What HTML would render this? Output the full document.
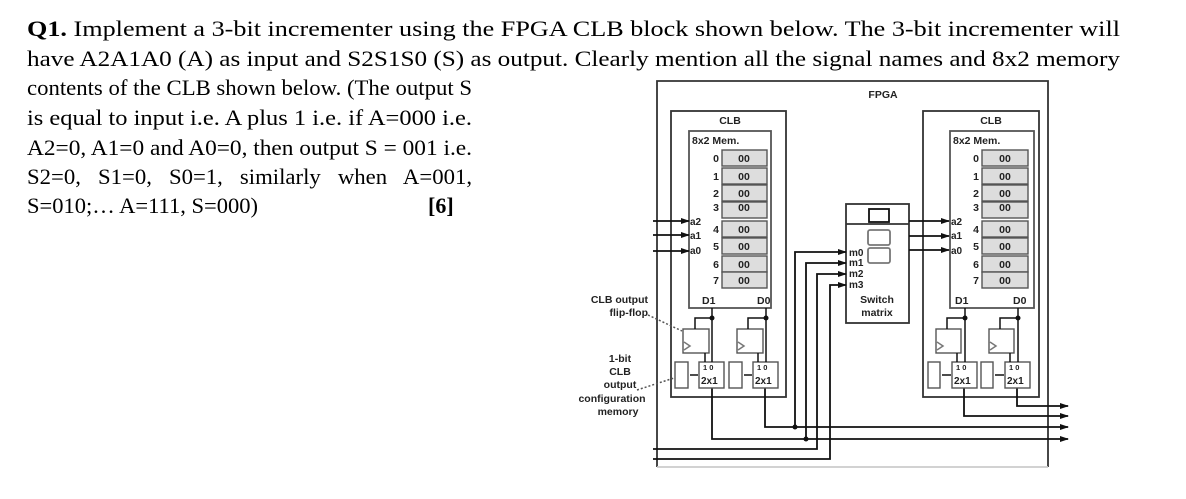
<!DOCTYPE html>
<html><head><meta charset="utf-8"><style>
body{margin:0;background:#fff;}
svg{display:block}
.t{font-family:"Liberation Serif",serif;font-size:22px;fill:#000}
</style></head><body>
<svg width="1186" height="499" viewBox="0 0 1186 499" xmlns="http://www.w3.org/2000/svg">
<defs><marker id="a" markerWidth="9" markerHeight="6" refX="8" refY="3" orient="auto" markerUnits="userSpaceOnUse"><path d="M0,0 L9,3 L0,6z" fill="#111"/></marker></defs>
<text class="t" x="27" y="36" textLength="1093" lengthAdjust="spacingAndGlyphs"><tspan font-weight="bold">Q1.</tspan> Implement a 3-bit incrementer using the FPGA CLB block shown below. The 3-bit incrementer will</text>
<text class="t" x="27" y="66" textLength="1093" lengthAdjust="spacingAndGlyphs">have A2A1A0 (A) as input and S2S1S0 (S) as output. Clearly mention all the signal names and 8x2 memory</text>
<text class="t" x="27" y="95" textLength="445" lengthAdjust="spacingAndGlyphs">contents of the CLB shown below. (The output S</text>
<text class="t" x="27" y="125" textLength="445" lengthAdjust="spacingAndGlyphs">is equal to input i.e. A plus 1 i.e. if A=000 i.e.</text>
<text class="t" x="27" y="155" textLength="445" lengthAdjust="spacingAndGlyphs">A2=0, A1=0 and A0=0, then output S = 001 i.e.</text>
<text class="t" x="27" y="184" textLength="445" lengthAdjust="spacingAndGlyphs" xml:space="preserve">S2=0,   S1=0,   S0=1,   similarly   when   A=001,</text>
<text class="t" x="27" y="213" textLength="231" lengthAdjust="spacingAndGlyphs">S=010;… A=111, S=000)</text>
<text class="t" x="428" y="213" font-weight="bold">[6]</text>

<g stroke="#333" fill="none" stroke-width="1.8">
<path d="M657,467 V81 H1048 V467"/>
<path d="M657,467 H1048" stroke="#ccc"/>
<rect x="671" y="111" width="115" height="286"/>
<rect x="923" y="111" width="116" height="286"/>
<rect x="689" y="131" width="82" height="177" stroke="#555"/>
<rect x="950" y="131" width="84" height="177" stroke="#555"/>
<rect x="846" y="204" width="63" height="119"/>
<line x1="846" y1="224" x2="909" y2="224"/>
<rect x="869" y="209" width="20" height="13" stroke="#111"/>
<rect x="868" y="230" width="22" height="15" rx="2" stroke="#777"/>
<rect x="868" y="248" width="22" height="15" rx="2" stroke="#777"/>
</g>
<g font-family="Liberation Sans,sans-serif" font-weight="bold" fill="#222">
<text x="883" y="98" font-size="10.5" text-anchor="middle">FPGA</text>
<text x="730" y="124" font-size="10.5" text-anchor="middle">CLB</text>
<text x="991" y="124" font-size="10.5" text-anchor="middle">CLB</text>
<text x="692" y="144" font-size="10.5">8x2 Mem.</text>
<text x="953" y="144" font-size="10.5">8x2 Mem.</text>
<text x="702" y="304" font-size="10.5">D1</text><text x="757" y="304" font-size="10.5">D0</text>
<text x="955" y="304" font-size="10.5">D1</text><text x="1013" y="304" font-size="10.5">D0</text>
<text x="877" y="303" font-size="10.5" text-anchor="middle">Switch</text>
<text x="877" y="316" font-size="10.5" text-anchor="middle">matrix</text>
<g font-size="10"><text x="849" y="256">m0</text><text x="849" y="266">m1</text><text x="849" y="277">m2</text><text x="849" y="288">m3</text></g>
<g font-size="10.5" text-anchor="end"><text x="648" y="303">CLB output</text><text x="648" y="316">flip-flop</text></g>
<g font-size="10.5" text-anchor="middle"><text x="620" y="362">1-bit</text><text x="620" y="375">CLB</text><text x="620" y="388">output</text><text x="612" y="402">configuration</text><text x="618" y="415">memory</text></g>
<g font-size="10"><text x="690" y="225">a2</text><text x="690" y="239">a1</text><text x="690" y="254">a0</text>
<text x="951" y="225">a2</text><text x="951" y="239">a1</text><text x="951" y="254">a0</text></g>
</g>
<g stroke="#111" stroke-width="1.8" fill="none" marker-end="url(#a)">
<path d="M653,221 H689"/><path d="M653,235 H689"/><path d="M653,251 H689"/>
<path d="M909,221 H949"/><path d="M909,236 H949"/><path d="M909,250 H949"/>
<path d="M795,427 V252 H846"/><path d="M806,439 V263 H846"/><path d="M653,449 H817 V274 H846"/><path d="M653,459 H830 V285 H846"/>
<path d="M765,388 V427 H1068"/><path d="M712,388 V439 H1068"/>
<path d="M1017,388 V406 H1068"/><path d="M964,388 V416 H1068"/>
</g>
<g fill="#111"><circle cx="795" cy="427" r="2.5"/><circle cx="806" cy="439" r="2.5"/>
<circle cx="712" cy="318" r="2.5"/><circle cx="766" cy="318" r="2.5"/><circle cx="965" cy="318" r="2.5"/><circle cx="1018" cy="318" r="2.5"/></g>
<g stroke="#555" stroke-width="1.4" fill="#fff">
<rect x="683" y="329" width="26" height="24"/><rect x="737" y="329" width="26" height="24"/>
<rect x="699" y="362" width="25" height="26"/><rect x="753" y="362" width="25" height="26"/>
<rect x="675" y="362" width="13" height="26"/><rect x="729" y="362" width="13" height="26"/>
<rect x="936" y="329" width="25" height="24"/><rect x="989" y="329" width="25" height="24"/>
<rect x="952" y="362" width="25" height="26"/><rect x="1005" y="362" width="25" height="26"/>
<rect x="928" y="362" width="12" height="26"/><rect x="981" y="362" width="12" height="26"/>
</g>
<g stroke="#111" stroke-width="1.5" fill="none">
<path d="M712,308 V362 M712,318 H695 V329 M705,353 V362"/>
<path d="M766,308 V362 M766,318 H748 V329 M758,353 V362"/>
<path d="M965,308 V362 M965,318 H947 V329 M957,353 V362"/>
<path d="M1018,308 V362 M1018,318 H1000 V329 M1010,353 V362"/>
<path d="M698,375 H690 M752,375 H744 M951,375 H942 M1004,375 H995"/>
<path d="M684,342 l6,4 -6,4 M738,342 l6,4 -6,4 M937,342 l6,4 -6,4 M990,342 l6,4 -6,4" stroke="#777"/>
<path d="M648,315 L682,331 M637,390 L674,378" stroke-dasharray="2,2" stroke="#555"/>
</g>
<g font-family="Liberation Sans,sans-serif" font-weight="bold" font-size="10" fill="#222">
<text x="701" y="384">2x1</text><text x="755" y="384">2x1</text><text x="954" y="384">2x1</text><text x="1007" y="384">2x1</text>
<g font-size="7.5"><text x="703" y="370">1 0</text><text x="757" y="370">1 0</text><text x="956" y="370">1 0</text><text x="1009" y="370">1 0</text></g>
</g>
<g font-family="Liberation Sans,sans-serif" font-weight="bold" font-size="10.5" fill="#222">
<g stroke="#555" stroke-width="1.4" fill="#ddd">
<rect x="722" y="150" width="45" height="16"/><rect x="722" y="168" width="45" height="16"/><rect x="722" y="185" width="45" height="16"/><rect x="722" y="202" width="45" height="16"/>
<rect x="722" y="221" width="45" height="16"/><rect x="722" y="238" width="45" height="16"/><rect x="722" y="256" width="45" height="16"/><rect x="722" y="272" width="45" height="16"/>
<rect x="982" y="150" width="46" height="16"/><rect x="982" y="168" width="46" height="16"/><rect x="982" y="185" width="46" height="16"/><rect x="982" y="202" width="46" height="16"/>
<rect x="982" y="221" width="46" height="16"/><rect x="982" y="238" width="46" height="16"/><rect x="982" y="256" width="46" height="16"/><rect x="982" y="272" width="46" height="16"/>
</g>
<g text-anchor="middle">
<text x="744" y="162">00</text><text x="744" y="180">00</text><text x="744" y="197">00</text><text x="744" y="211">00</text><text x="744" y="233">00</text><text x="744" y="250">00</text><text x="744" y="268">00</text><text x="744" y="284">00</text>
<text x="1005" y="162">00</text><text x="1005" y="180">00</text><text x="1005" y="197">00</text><text x="1005" y="211">00</text><text x="1005" y="233">00</text><text x="1005" y="250">00</text><text x="1005" y="268">00</text><text x="1005" y="284">00</text>
</g>
<g text-anchor="end">
<text x="719" y="162">0</text><text x="719" y="180">1</text><text x="719" y="197">2</text><text x="719" y="211">3</text><text x="719" y="233">4</text><text x="719" y="250">5</text><text x="719" y="268">6</text><text x="719" y="284">7</text>
<text x="979" y="162">0</text><text x="979" y="180">1</text><text x="979" y="197">2</text><text x="979" y="211">3</text><text x="979" y="233">4</text><text x="979" y="250">5</text><text x="979" y="268">6</text><text x="979" y="284">7</text>
</g>
</g>
</svg>
</body></html>
